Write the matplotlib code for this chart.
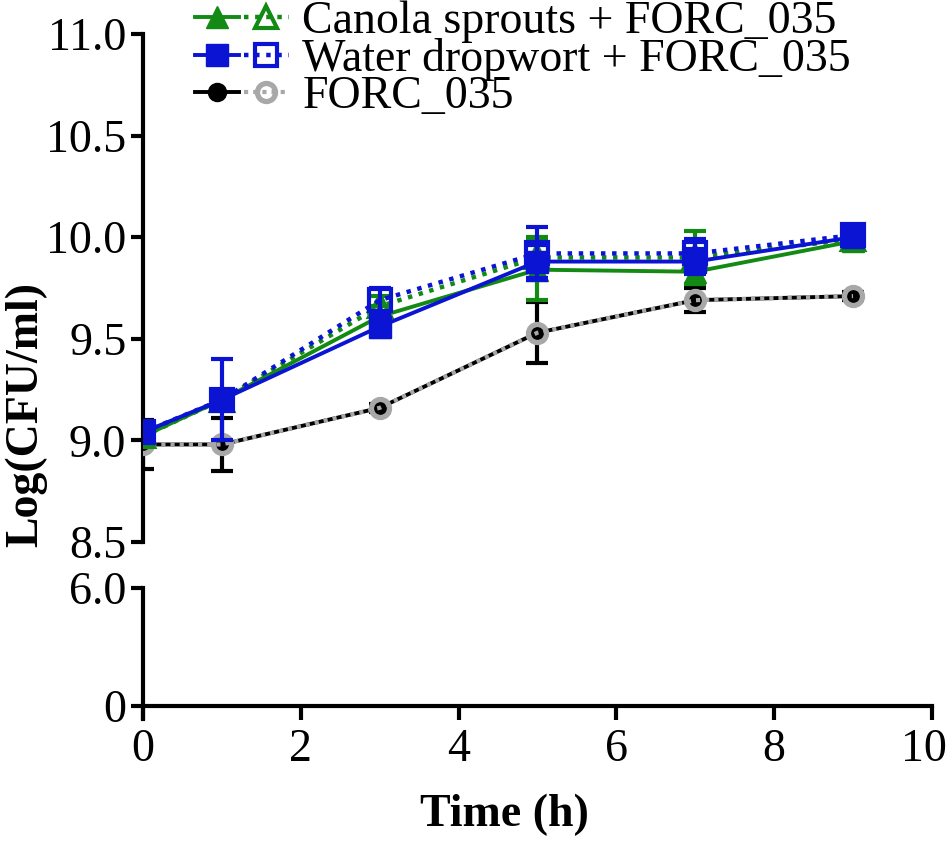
import matplotlib
matplotlib.use("Agg")
import matplotlib.pyplot as plt
from matplotlib.legend_handler import HandlerTuple
from matplotlib.transforms import ScaledTranslation

plt.rcParams['font.family'] = ['Liberation Serif', 'DejaVu Serif']

time_h = [0, 1, 3, 5, 7, 9]

canola_solid = [9.02, 9.20, 9.61, 9.84, 9.83, 9.98]
canola_solid_err = [0.05, 0.05, 0.05, 0.15, 0.06, 0.03]
canola_dot = [9.02, 9.20, 9.66, 9.90, 9.90, 9.99]
canola_dot_err = [0.05, 0.05, 0.05, 0.10, 0.13, 0.03]

water_solid = [9.04, 9.20, 9.56, 9.88, 9.88, 10.00]
water_solid_err = [0.05, 0.20, 0.05, 0.08, 0.06, 0.04]
water_dot = [9.04, 9.20, 9.69, 9.92, 9.92, 10.01]
water_dot_err = [0.05, 0.05, 0.06, 0.13, 0.07, 0.04]

forc_solid = [8.98, 8.98, 9.16, 9.53, 9.69, 9.71]
forc_solid_err = [0.12, 0.13, 0.02, 0.15, 0.06, 0.02]
forc_dot = [8.98, 8.98, 9.16, 9.53, 9.69, 9.71]

labels = ["Canola sprouts + FORC_035", "Water dropwort + FORC_035", "FORC_035"]
upper_ticks = [8.5, 9.0, 9.5, 10.0, 10.5, 11.0]
upper_ticklabels = ["8.5", "9.0", "9.5", "10.0", "10.5", "11.0"]
lower_ticks = [0, 6]
lower_ticklabels = ["0", "6.0"]
x_ticks = [0, 2, 4, 6, 8, 10]

GREEN = "#138a13"
BLUE = "#0a14d2"
GRAY = "#a8a8a8"
FS = 33
LW = 3.0

fig = plt.figure(figsize=(9.5, 8.49), dpi=100)
ax_top = fig.add_axes([0.1505, 0.3616, 0.8305, 0.5984])
ax_bot = fig.add_axes([0.1505, 0.1534, 0.8305, 0.1540])

# FORC_035
e = ax_top.errorbar(time_h, forc_solid, yerr=forc_solid_err, color="black", lw=2.8,
                    marker="o", ms=13, mfc="black", mec="black", capsize=8,
                    elinewidth=3, capthick=3, zorder=3)
h_forc_s = e.lines[0]
h_forc_d, = ax_top.plot(time_h, forc_dot, color=GRAY, lw=3, ls=(0, (1, 1.2)),
                        marker="o", ms=13, mfc="none", mec=GRAY, mew=3.8, zorder=4)

# Canola
e = ax_top.errorbar(time_h, canola_solid, yerr=canola_solid_err, color=GREEN, lw=2.8,
                    marker="^", ms=16, mfc=GREEN, mec=GREEN, capsize=8,
                    elinewidth=3, capthick=3, zorder=5)
h_can_s = e.lines[0]
e = ax_top.errorbar(time_h, canola_dot, yerr=canola_dot_err, color=GREEN, lw=3.2,
                    ls=(0, (1, 1.5)), marker="^", ms=16, mfc="none", mec=GREEN,
                    mew=3, capsize=8, elinewidth=3, capthick=3, zorder=6)
h_can_d = e.lines[0]

# Water dropwort
e = ax_top.errorbar(time_h, water_solid, yerr=water_solid_err, color=BLUE, lw=2.8,
                    marker="s", ms=16, mfc=BLUE, mec=BLUE, capsize=8,
                    elinewidth=3, capthick=3, zorder=7)
h_wat_s = e.lines[0]
e = ax_top.errorbar(time_h, water_dot, yerr=water_dot_err, color=BLUE, lw=3.2,
                    ls=(0, (1, 1.5)), marker="s", ms=16, mfc="none", mec=BLUE,
                    mew=3, capsize=8, elinewidth=3, capthick=3, zorder=8)
h_wat_d = e.lines[0]

# upper axis styling
ax_top.set_xlim(0, 10)
ax_top.set_ylim(8.5, 11.0)
for s in ["top", "right", "bottom"]:
    ax_top.spines[s].set_visible(False)
ax_top.spines["left"].set_linewidth(LW)
ax_top.set_xticks([])
ax_top.set_yticks(upper_ticks)
ax_top.set_yticklabels(upper_ticklabels)
ax_top.tick_params(axis="y", direction="out", length=9, width=LW, labelsize=FS, pad=3)

# lower axis styling
ax_bot.set_xlim(0, 10)
ax_bot.set_ylim(-0.65, 6.0)
for s in ["top", "right"]:
    ax_bot.spines[s].set_visible(False)
ax_bot.spines["left"].set_linewidth(LW)
ax_bot.spines["bottom"].set_linewidth(LW)
ax_bot.spines["bottom"].set_position(("data", 0))
ax_bot.set_yticks(lower_ticks)
ax_bot.set_yticklabels(lower_ticklabels)
ax_bot.set_xticks(x_ticks)
ax_bot.set_xticklabels([str(v) for v in x_ticks])
ax_bot.tick_params(axis="y", direction="out", length=9, width=LW, labelsize=FS, pad=3)
ax_bot.tick_params(axis="x", direction="out", length=10, width=LW, labelsize=FS, pad=6)
ax_bot.set_facecolor("none")
last = ax_bot.get_xticklabels()[-1]
last.set_transform(last.get_transform() + ScaledTranslation(-6 / 72, 0, fig.dpi_scale_trans))

fig.text(0.5305, 0.04, "Time (h)", fontsize=FS, fontweight="bold",
         ha="center", va="center")
fig.text(0.027, 0.512, "Log(CFU/ml)", fontsize=FS, fontweight="bold",
         ha="center", va="center", rotation=90)

leg = fig.legend(handles=[(h_can_s, h_can_d), (h_wat_s, h_wat_d), (h_forc_s, h_forc_d)],
                 labels=labels, handler_map={tuple: HandlerTuple(ndivide=None, pad=0.1)},
                 loc="upper left", bbox_to_anchor=(0.205, 0.999), frameon=False,
                 fontsize=FS, handlelength=2.05, handletextpad=0.3,
                 labelspacing=-0.12, borderpad=0.0, borderaxespad=0.0)

fig.savefig("out.png", dpi=100)
